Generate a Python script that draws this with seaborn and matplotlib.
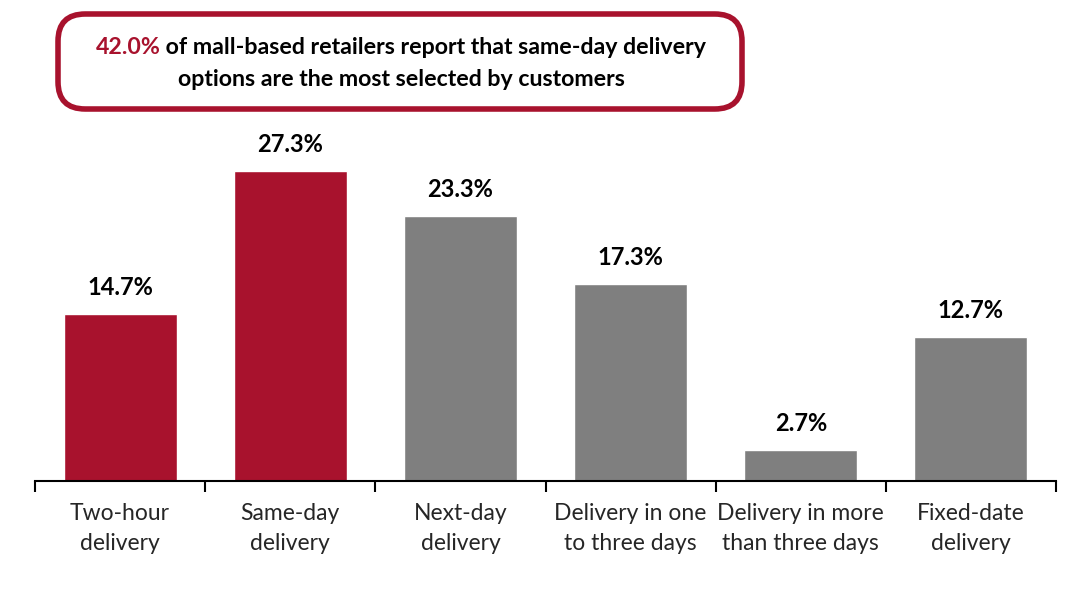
import matplotlib
matplotlib.use("Agg")
import matplotlib.pyplot as plt
from matplotlib.patches import FancyBboxPatch
from matplotlib.ticker import FixedLocator
import seaborn as sns
import pandas as pd

# Data
categories = ["Two-hour\ndelivery", "Same-day\ndelivery", "Next-day\ndelivery",
              "Delivery in one\nto three days", "Delivery in more\nthan three days",
              "Fixed-date\ndelivery"]
values = [14.7, 27.3, 23.3, 17.3, 2.7, 12.7]
highlight = [True, True, False, False, False, False]

RED = "#A8122D"
GRAY = "#7F7F7F"
colors = [RED if h else GRAY for h in highlight]

df = pd.DataFrame({"Option": categories, "Share": values})

sns.set_style("white")
plt.rcParams["font.family"] = ["Lato", "DejaVu Sans"]

fig = plt.figure(figsize=(10.89, 5.95), dpi=100)
ax = fig.add_axes([35 / 1089, 114 / 595, 1021 / 1089, 341 / 595])

sns.barplot(data=df, x="Option", y="Share", hue="Option", palette=colors,
            legend=False, width=0.665, saturation=1, ax=ax)

ax.set_xlim(-0.5, len(categories) - 0.5)
ax.set_ylim(0, 30)
ax.set_xlabel("")
ax.set_ylabel("")
ax.set_yticks([])
for s in ["top", "right", "left"]:
    ax.spines[s].set_visible(False)
ax.spines["bottom"].set_color("black")
ax.spines["bottom"].set_linewidth(1.5)

ax.xaxis.set_minor_locator(FixedLocator([i - 0.5 for i in range(len(categories) + 1)]))
ax.tick_params(axis="x", which="major", length=0, pad=16, labelsize=16.5)
ax.tick_params(axis="x", which="minor", length=8, width=1.5, color="black", direction="out", bottom=True)
for lab in ax.get_xticklabels():
    lab.set_linespacing(1.5)

for i, v in enumerate(values):
    ax.annotate(f"{v:.1f}%", xy=(i, v), xytext=(0, 19), textcoords="offset points",
                ha="center", va="center", fontsize=17, fontweight="bold", color="black")

# Callout box
box = FancyBboxPatch((58 / 1089, 1 - 109 / 595), 684 / 1089, 95 / 595,
                     boxstyle="round,pad=0,rounding_size=0.025",
                     transform=fig.transFigure, facecolor="white",
                     edgecolor=RED, linewidth=4, mutation_aspect=1089 / 595)
fig.patches.append(box)

renderer = fig.canvas.get_renderer()
part1 = "42.0%"
part2 = " of mall-based retailers report that same-day delivery"
cx = 401 / 1089
y1 = 1 - 48 / 595
t1 = fig.text(0, y1, part1, color=RED, fontsize=16.7, fontweight="bold", va="center")
t2 = fig.text(0, y1, part2, color="black", fontsize=16.7, fontweight="bold", va="center")
w1 = t1.get_window_extent(renderer).width / fig.bbox.width
w2 = t2.get_window_extent(renderer).width / fig.bbox.width
start = cx - (w1 + w2) / 2
t1.set_x(start)
t2.set_x(start + w1)
fig.text(cx, 1 - 79 / 595, "options are the most selected by customers", color="black",
         fontsize=16.7, fontweight="bold", ha="center", va="center")

fig.savefig("out.png", dpi=100)
